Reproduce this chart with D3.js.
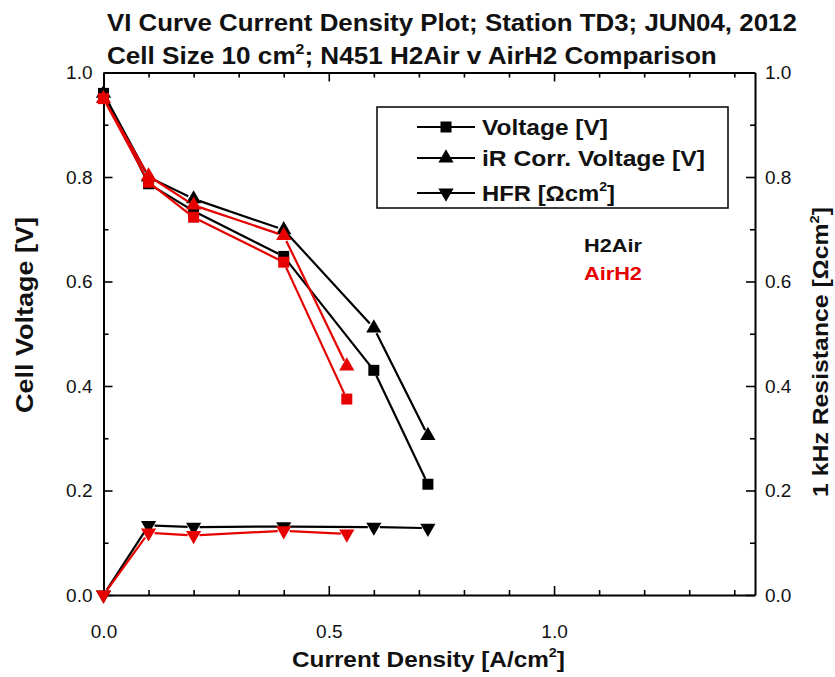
<!DOCTYPE html>
<html>
<head>
<meta charset="utf-8">
<script src="https://cdn.jsdelivr.net/npm/d3@7"></script>
<style>
  html, body { margin: 0; padding: 0; background: #fff; }
  svg { display: block; font-family: "Liberation Sans", Arial, sans-serif; }
</style>
</head>
<body>
<svg id="chart" width="835" height="677"></svg>
<script>
// ---------------- data ----------------
const currentH2Air   = [0, 0.1, 0.2, 0.4, 0.6, 0.72];
const voltageH2Air   = [0.960, 0.787, 0.735, 0.648, 0.430, 0.212];
const irVoltageH2Air = [0.960, 0.800, 0.758, 0.699, 0.511, 0.305];
const hfrH2Air       = [0.000, 0.133, 0.130, 0.131, 0.130, 0.128];

const currentAirH2   = [0, 0.1, 0.2, 0.4, 0.54];
const voltageAirH2   = [0.950, 0.790, 0.723, 0.637, 0.375];
const irVoltageAirH2 = [0.950, 0.802, 0.746, 0.688, 0.438];
const hfrAirH2       = [0.000, 0.119, 0.114, 0.123, 0.117];

const xMajorTicks = [0, 0.5, 1.0];
const yMajorTicks = [0, 0.2, 0.4, 0.6, 0.8, 1.0];
const legendLabels = ["Voltage [V]", "iR Corr. Voltage [V]", "HFR [Ωcm²]"];

// ---------------- layout ----------------
const svg = d3.select("#chart");
const L = 103.5, R = 755, T = 72.5, B = 595;
const x = d3.scaleLinear().domain([0, 1.446]).range([L, R]);
const yL = d3.scaleLinear().domain([0, 1]).range([B, T]);
const yR = d3.scaleLinear().domain([0, 1]).range([B, T]);
const BLACK = "#000", RED = "#e60000";

function fitWidth(sel, w) {
  const n = sel.node();
  const bw = n.getComputedTextLength();
  const ax = +sel.attr("x");
  const k = w / bw;
  sel.attr("transform", `translate(${ax},0) scale(${k},1) translate(${-ax},0)`);
}

// ---------------- axes ----------------
const xMinor = d3.range(0, 1.45, 0.1).map(v => +v.toFixed(2)).filter(v => !xMajorTicks.some(m => Math.abs(m - v) < 1e-6));
const yMinor = d3.range(0.1, 1.0, 0.2).map(v => +v.toFixed(2));
const fmt = d3.format(".1f");

function styleAxis(g) {
  g.selectAll(".domain").attr("stroke", BLACK).attr("stroke-width", 2);
  g.selectAll(".tick line").attr("stroke", BLACK).attr("stroke-width", 1.6);
  g.selectAll("text").attr("font-size", 19).attr("fill", "#111").attr("font-family", "Liberation Sans, Arial, sans-serif");
}

// bottom
svg.append("g").attr("transform", `translate(0,${B})`)
  .call(d3.axisBottom(x).tickValues(xMajorTicks).tickSizeInner(-9).tickSizeOuter(0).tickPadding(30).tickFormat(fmt))
  .call(styleAxis);
svg.append("g").attr("transform", `translate(0,${B})`)
  .call(d3.axisBottom(x).tickValues(xMinor).tickSizeInner(-5).tickSizeOuter(0).tickFormat(""))
  .call(styleAxis).select(".domain").remove();
// top
svg.append("g").attr("transform", `translate(0,${T})`)
  .call(d3.axisTop(x).tickValues(xMajorTicks).tickSizeInner(-9).tickSizeOuter(0).tickFormat(""))
  .call(styleAxis);
svg.append("g").attr("transform", `translate(0,${T})`)
  .call(d3.axisTop(x).tickValues(xMinor).tickSizeInner(-5).tickSizeOuter(0).tickFormat(""))
  .call(styleAxis).select(".domain").remove();
// left
svg.append("g").attr("transform", `translate(${L},0)`)
  .call(d3.axisLeft(yL).tickValues(yMajorTicks).tickSizeInner(-9).tickSizeOuter(0).tickPadding(11).tickFormat(fmt))
  .call(styleAxis);
svg.append("g").attr("transform", `translate(${L},0)`)
  .call(d3.axisLeft(yL).tickValues(yMinor).tickSizeInner(-5).tickSizeOuter(0).tickFormat(""))
  .call(styleAxis).select(".domain").remove();
// right
svg.append("g").attr("transform", `translate(${R},0)`)
  .call(d3.axisRight(yR).tickValues(yMajorTicks).tickSizeInner(-9).tickSizeOuter(0).tickPadding(10).tickFormat(fmt))
  .call(styleAxis);
svg.append("g").attr("transform", `translate(${R},0)`)
  .call(d3.axisRight(yR).tickValues(yMinor).tickSizeInner(-5).tickSizeOuter(0).tickFormat(""))
  .call(styleAxis).select(".domain").remove();

// ---------------- series ----------------
const symSquare = d3.symbol().type(d3.symbolSquare).size(121)();
const symTri = d3.symbol().type(d3.symbolTriangle).size(100)();

function drawSeries(xs, ys, yScale, color, shape) {
  const pts = xs.map((v, i) => [x(v), yScale(ys[i])]);
  const g = svg.append("g");
  const gap = 6;
  for (let i = 0; i < pts.length - 1; i++) {
    const [x1, y1] = pts[i], [x2, y2] = pts[i + 1];
    const dx = x2 - x1, dy = y2 - y1, len = Math.hypot(dx, dy);
    if (len <= 2 * gap) continue;
    const ux = dx / len, uy = dy / len;
    g.append("line")
      .attr("x1", x1 + ux * gap).attr("y1", y1 + uy * gap)
      .attr("x2", x2 - ux * gap).attr("y2", y2 - uy * gap)
      .attr("stroke", color).attr("stroke-width", 2.2);
  }
  g.selectAll("path.m").data(pts).enter().append("path")
    .attr("class", "m")
    .attr("d", shape === "square" ? symSquare : symTri)
    .attr("transform", d => `translate(${d[0]},${d[1]})` + (shape === "down" ? " rotate(180)" : ""))
    .attr("fill", color);
}

drawSeries(currentH2Air, voltageH2Air, yL, BLACK, "square");
drawSeries(currentH2Air, irVoltageH2Air, yL, BLACK, "up");
drawSeries(currentH2Air, hfrH2Air, yR, BLACK, "down");
drawSeries(currentAirH2, voltageAirH2, yL, RED, "square");
drawSeries(currentAirH2, irVoltageAirH2, yL, RED, "up");
drawSeries(currentAirH2, hfrAirH2, yR, RED, "down");

// ---------------- titles ----------------
const t1 = svg.append("text").attr("x", 107).attr("y", 31)
  .attr("font-size", 23).attr("font-weight", "bold").attr("fill", "#111")
  .text("VI Curve Current Density Plot; Station TD3; JUN04, 2012");
fitWidth(t1, 690);
const t2 = svg.append("text").attr("x", 107).attr("y", 64)
  .attr("font-size", 23).attr("font-weight", "bold").attr("fill", "#111");
t2.append("tspan").text("Cell Size 10 cm");
t2.append("tspan").attr("font-size", 14).attr("dy", -10).text("2");
t2.append("tspan").attr("dy", 10).text("; N451 H2Air v AirH2 Comparison");
fitWidth(t2, 610);

// x title
const xt = svg.append("text").attr("x", 292).attr("y", 667)
  .attr("font-size", 22).attr("font-weight", "bold").attr("fill", "#111");
xt.append("tspan").text("Current Density [A/cm");
xt.append("tspan").attr("font-size", 13).attr("dy", -10).text("2");
xt.append("tspan").attr("dy", 10).text("]");
fitWidth(xt, 273);

// left y title
const ylg = svg.append("g").attr("transform", "translate(33,413) rotate(-90)");
const ylt = ylg.append("text").attr("x", 0).attr("y", 0)
  .attr("font-size", 23).attr("font-weight", "bold").attr("fill", "#111")
  .text("Cell Voltage [V]");
fitWidth(ylt, 196);

// right y title
const yrg = svg.append("g").attr("transform", "translate(828,497) rotate(-90)");
const yrt = yrg.append("text").attr("x", 0).attr("y", 0)
  .attr("font-size", 22).attr("font-weight", "bold").attr("fill", "#111");
yrt.append("tspan").text("1 kHz Resistance [Ωcm");
yrt.append("tspan").attr("font-size", 13).attr("dy", -9).text("2");
yrt.append("tspan").attr("dy", 9).text("]");
fitWidth(yrt, 290);

// ---------------- legend ----------------
svg.append("rect").attr("x", 377).attr("y", 107).attr("width", 351).attr("height", 101)
  .attr("fill", "#fff").attr("stroke", BLACK).attr("stroke-width", 1.5);
const rowsY = [127, 158, 193];
const shapes = ["square", "up", "down"];
const widths = [126, 223, 133];
rowsY.forEach((ry, i) => {
  svg.append("line").attr("x1", 417).attr("x2", 475).attr("y1", ry).attr("y2", ry)
    .attr("stroke", BLACK).attr("stroke-width", 2);
  svg.append("path")
    .attr("d", shapes[i] === "square" ? symSquare : symTri)
    .attr("transform", `translate(446,${ry})` + (shapes[i] === "down" ? " rotate(180)" : ""))
    .attr("fill", BLACK);
  const t = svg.append("text").attr("x", 482).attr("y", ry + 8)
    .attr("font-size", 22).attr("font-weight", "bold").attr("fill", "#111");
  if (i === 2) {
    t.append("tspan").text("HFR [Ωcm");
    t.append("tspan").attr("font-size", 13).attr("dy", -10).text("2");
    t.append("tspan").attr("dy", 10).text("]");
  } else {
    t.text(legendLabels[i]);
  }
  fitWidth(t, widths[i]);
});

// annotations
const a1 = svg.append("text").attr("x", 584).attr("y", 252)
  .attr("font-size", 19).attr("font-weight", "bold").attr("fill", "#111").text("H2Air");
fitWidth(a1, 58);
const a2 = svg.append("text").attr("x", 584).attr("y", 280)
  .attr("font-size", 19).attr("font-weight", "bold").attr("fill", RED).text("AirH2");
fitWidth(a2, 58);
</script>
</body>
</html>
